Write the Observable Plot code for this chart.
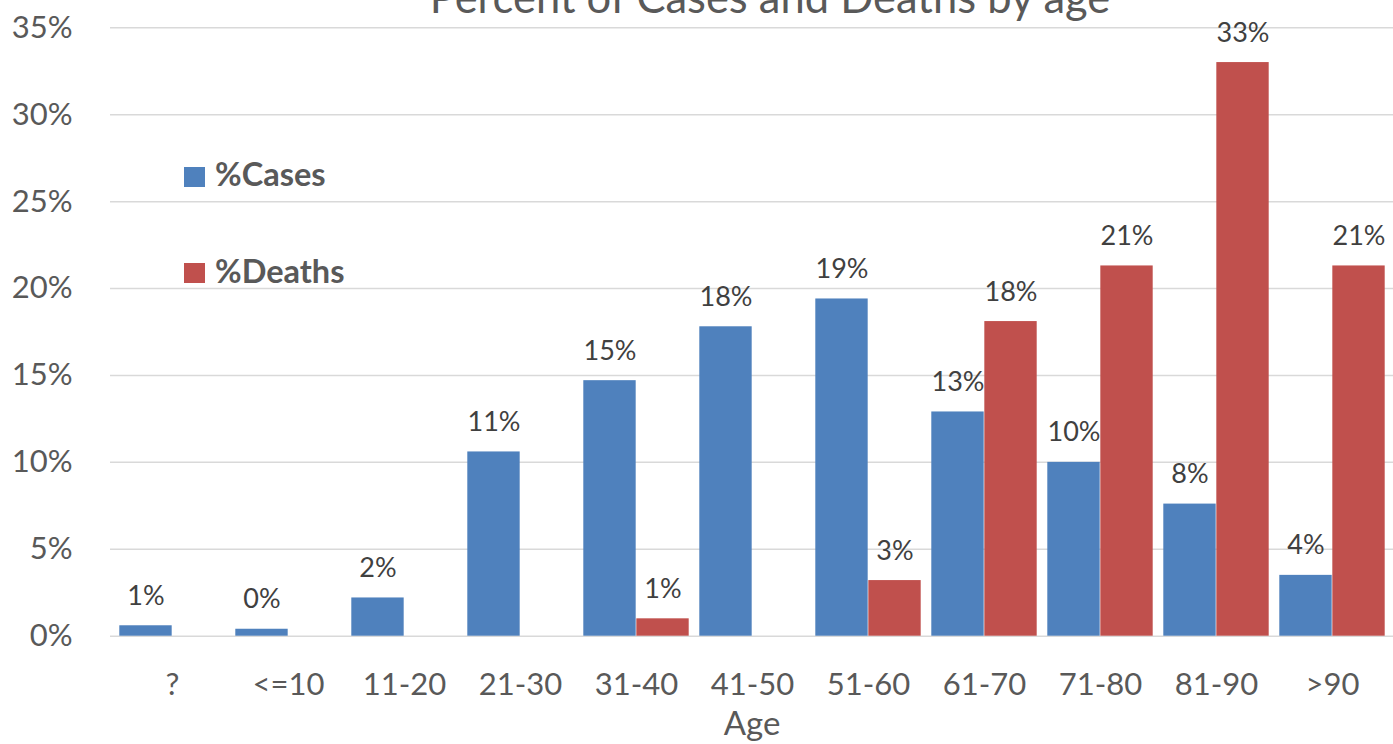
<!DOCTYPE html>
<html><head><meta charset="utf-8">
<script src="https://cdn.jsdelivr.net/npm/d3@7"></script>
<script src="https://cdn.jsdelivr.net/npm/@observablehq/plot@0.6"></script>
<style>
body{margin:0;background:#fff;font-family:Lato,sans-serif;}
#wrap{position:relative;width:1393px;height:744px;overflow:hidden;background:#fff;}
#chart{position:absolute;left:0;top:0;}
#title{position:absolute;left:0;width:1540px;text-align:center;top:-25px;font-size:43.5px;line-height:1;color:#595959;white-space:nowrap;}
.sw{position:absolute;left:184px;width:21px;height:20px;}
.lt{position:absolute;left:215px;font-weight:bold;font-size:32.5px;line-height:1;color:#595959;white-space:nowrap;}
</style></head><body>
<div id="wrap"><div id="chart"></div><div id="title">Percent of Cases and Deaths by age</div><div id="legend"></div></div>
<script>
const ages = ["?","<=10","11-20","21-30","31-40","41-50","51-60","61-70","71-80","81-90",">90"];
const casesPct = [0.6,0.4,2.2,10.6,14.7,17.8,19.4,12.9,10.0,7.6,3.5];
const deathsPct = [0,0,0,0,1.0,0,3.2,18.1,21.3,33.0,21.3];
const yTicks = [0,5,10,15,20,25,30,35];
const seriesNames = ["%Cases","%Deaths"];
const seriesColors = ["#4F81BD","#C0504D"];
const axisTitle = "Age";

const rows = ages.map((a,i)=>({age:a, cases:casesPct[i], deaths:deathsPct[i]}));
const fmt = v => Math.round(v) + "%";

const W=1393, H=744, mL=110, mR=0, mT=27.3, mB=108.3;
const bw = (W-mL-mR)/ages.length;
const gapIn = 5.3;
const off = (bw/2 - gapIn)/2;

const chart = Plot.plot({
  width:W, height:H, marginLeft:mL, marginRight:mR, marginTop:mT, marginBottom:mB,
  style:{fontFamily:"Lato, sans-serif", background:"transparent", overflow:"visible"},
  x:{type:"band", domain:ages, padding:0},
  y:{domain:[0,35]},
  marks:[
    Plot.gridY(yTicks,{stroke:"#d9d9d9", strokeOpacity:1, strokeWidth:1.5}),
    Plot.barY(rows,{x:"age", y:"cases", fill:seriesColors[0], insetLeft:gapIn, insetRight:bw/2}),
    Plot.barY(rows,{x:"age", y:"deaths", fill:seriesColors[1], insetLeft:bw/2, insetRight:gapIn}),
    Plot.text(rows,{x:"age", y:"cases", text:d=>fmt(d.cases), dx:-off, dy:-21, lineAnchor:"bottom", fontSize:27, fill:"#404040"}),
    Plot.text(rows.filter(d=>d.deaths>0),{x:"age", y:"deaths", text:d=>fmt(d.deaths), dx:off, dy:-21, lineAnchor:"bottom", fontSize:27, fill:"#404040"}),
    Plot.axisY({ticks:yTicks, tickFormat:d=>d+"%", tickSize:0, tickPadding:38, fontSize:31, color:"#595959", label:null}),
    Plot.axisX({tickSize:0, tickPadding:37, fontSize:31, color:"#595959", label:null}),
    Plot.text([axisTitle],{frameAnchor:"bottom", dy:99, lineAnchor:"bottom", text:d=>d, fontSize:33, fill:"#595959"})
  ]
});
document.getElementById("chart").appendChild(chart);

const leg = document.getElementById("legend");
const swTops = [166.7, 263.3];
seriesNames.forEach((n,i)=>{
  const s = document.createElement("div"); s.className="sw"; s.style.top=swTops[i]+"px"; s.style.background=seriesColors[i]; leg.appendChild(s);
  const t = document.createElement("div"); t.className="lt"; t.style.top=(swTops[i]-8.5)+"px"; t.textContent=n; leg.appendChild(t);
});
</script>
</body></html>
